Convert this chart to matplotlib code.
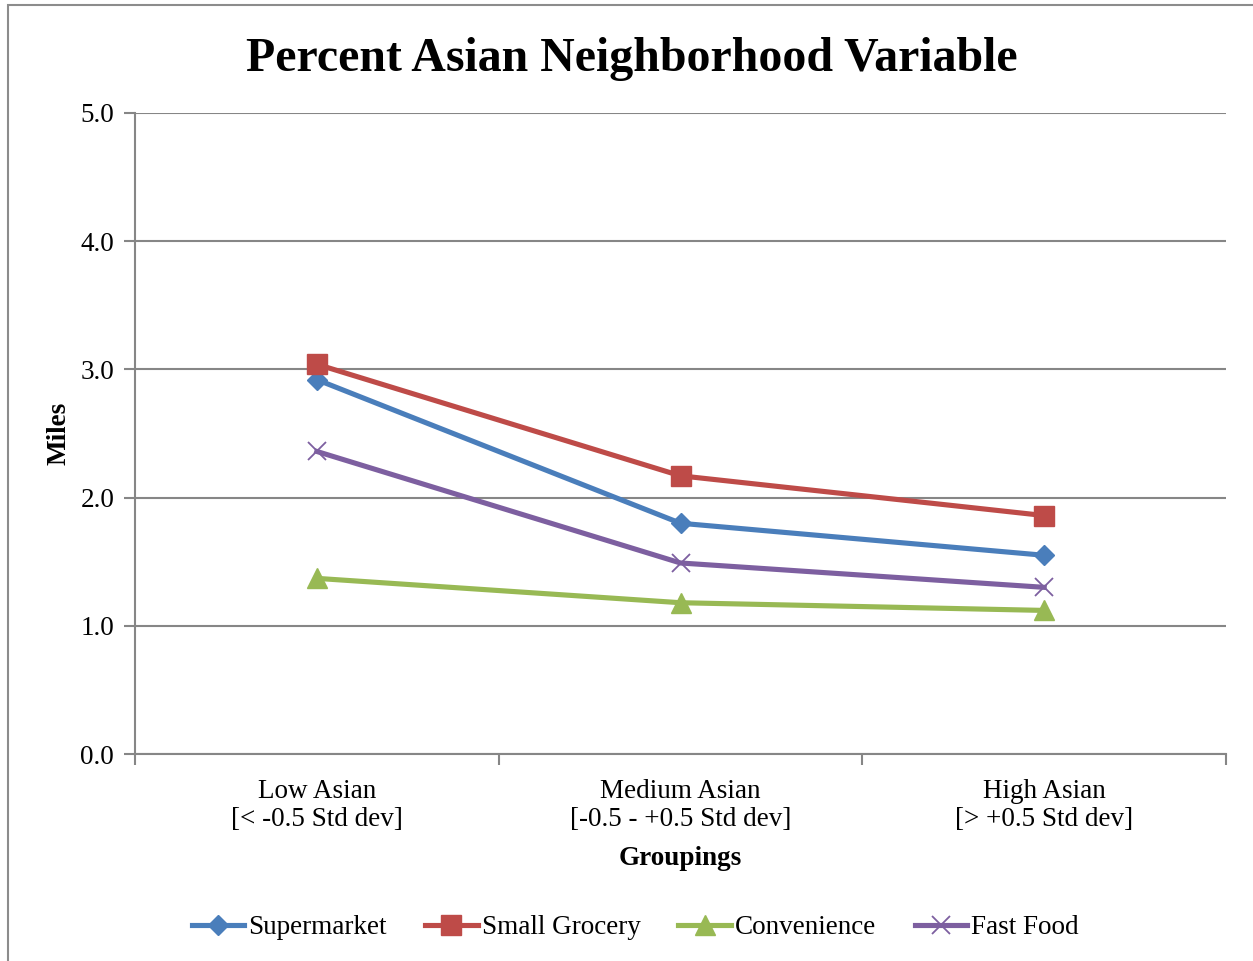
import matplotlib.pyplot as plt
from matplotlib.patches import Rectangle

plt.rcParams['font.family'] = ['Liberation Serif', 'DejaVu Serif']

# data
groups = ['Low Asian\n[< -0.5 Std dev]', 'Medium Asian\n[-0.5 - +0.5 Std dev]', 'High Asian\n[> +0.5 Std dev]']
supermarket = [2.92, 1.80, 1.55]
small_grocery = [3.04, 2.17, 1.86]
convenience = [1.37, 1.18, 1.12]
fast_food = [2.36, 1.49, 1.30]

grid_col = '#868686'
fs = 19.5

fig = plt.figure(figsize=(12.53, 9.61), dpi=100)
# outer chart border (cropped on right / bottom)
fig.patches.append(Rectangle((8 / 1253, -0.1), 1.2, 1 - 5 / 961 + 0.1, transform=fig.transFigure,
                             fill=False, edgecolor='#8c8c8c', linewidth=1.5))

ax = fig.add_axes([135 / 1253, 1 - 754 / 961, (1226 - 135) / 1253, (754 - 113) / 961])

x = range(len(groups))
ax.plot(x, supermarket, color='#4A7EBB', lw=3.7, marker='D', ms=10.5, label='Supermarket')
ax.plot(x, small_grocery, color='#BE4B48', lw=3.7, marker='s', ms=14, label='Small Grocery')
ax.plot(x, convenience, color='#98B954', lw=3.7, marker='^', ms=14, label='Convenience')
ax.plot(x, fast_food, color='#7D5FA0', lw=3.7, marker='x', ms=13, mew=1.3, label='Fast Food')

ax.set_xlim(-0.5, 2.5)
ax.set_ylim(0, 5)
ax.set_yticks([0, 1, 2, 3, 4, 5])
ax.set_yticklabels([f'{v:.1f}' for v in [0, 1, 2, 3, 4, 5]])
ax.yaxis.grid(True, color=grid_col, lw=1.5)
ax.set_axisbelow(True)

ax.set_xticks([-0.5, 0.5, 1.5, 2.5])
ax.set_xticklabels([])
ax.set_xticks(list(x), minor=True)
ax.set_xticklabels(groups, minor=True, linespacing=1.15)
ax.tick_params(axis='x', which='major', length=8, width=1.5, color=grid_col, direction='out')
ax.tick_params(axis='x', which='minor', length=0, pad=18, labelsize=fs)
ax.tick_params(axis='y', length=8, width=1.5, color=grid_col, labelsize=fs, pad=7)

for s in ['top', 'right']:
    ax.spines[s].set_visible(False)
for s in ['left', 'bottom']:
    ax.spines[s].set_color(grid_col)
    ax.spines[s].set_linewidth(1.5)

ax.set_xlabel('Groupings', fontsize=fs, fontweight='bold', labelpad=10)
ax.set_ylabel('Miles', fontsize=fs, fontweight='bold', labelpad=6)
fig.text(0.504, 1 - 71 / 961, 'Percent Asian Neighborhood Variable', ha='center', va='baseline',
         fontsize=34.5, fontweight='bold')

fig.legend(loc='center', bbox_to_anchor=(0.507, 1 - 928 / 961), ncol=4, frameon=False,
           fontsize=fs, handlelength=1.95, handletextpad=0.15, columnspacing=1.4)

fig.savefig('out.png', dpi=100)
